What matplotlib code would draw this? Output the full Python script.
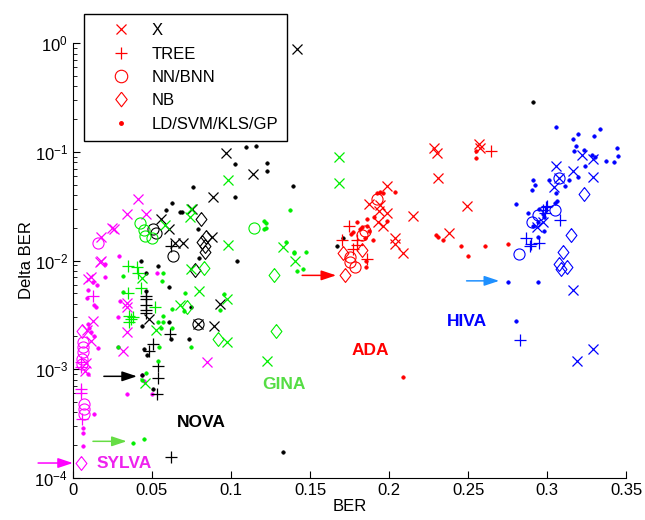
import matplotlib
matplotlib.use("Agg")
import matplotlib.pyplot as plt
from matplotlib.lines import Line2D

plt.rcParams['font.family'] = ['Liberation Sans', 'DejaVu Sans']
plt.rcParams['mathtext.fontset'] = 'custom'
plt.rcParams['mathtext.rm'] = 'Liberation Sans'
plt.rcParams['mathtext.it'] = 'Liberation Sans:italic'
plt.rcParams['mathtext.bf'] = 'Liberation Sans:bold'

# ---------------- data: (BER, Delta BER) ----------------
# SYLVA (magenta)
sylva_x = [(0.041, 0.037), (0.034, 0.027), (0.046, 0.027), (0.025, 0.020), (0.026, 0.0195),
           (0.018, 0.0166), (0.018, 0.0100), (0.017, 0.0097), (0.0095, 0.0068), (0.0115, 0.0071),
           (0.034, 0.0041), (0.034, 0.0037), (0.0127, 0.0028), (0.0089, 0.0023), (0.034, 0.0022),
           (0.0115, 0.0018), (0.032, 0.00148), (0.0085, 0.00115), (0.0078, 0.00097), (0.085, 0.00117)]
sylva_tree = [(0.0127, 0.0047), (0.005, 0.00116), (0.005, 0.00104), (0.005, 0.00066),
              (0.005, 0.00060), (0.006, 0.00035)]
sylva_nn = [(0.016, 0.0146), (0.0063, 0.00177), (0.0063, 0.00159), (0.0063, 0.00143),
            (0.006, 0.00125), (0.006, 0.00112), (0.0068, 0.00048), (0.0068, 0.00043), (0.0068, 0.00039)]
sylva_nb = [(0.0057, 0.00227), (0.005, 0.000137)]
sylva_ld = [(0.029, 0.0111), (0.020, 0.0071), (0.020, 0.0092), (0.0095, 0.0054), (0.015, 0.0059),
            (0.0127, 0.0063), (0.0133, 0.0039), (0.0146, 0.0037), (0.0297, 0.0042), (0.0285, 0.0030),
            (0.0089, 0.0045), (0.010, 0.0024), (0.0114, 0.0022), (0.0133, 0.0020), (0.0095, 0.0026),
            (0.016, 0.00158), (0.0285, 0.0016), (0.0095, 0.00090), (0.034, 0.00059), (0.050, 0.00059),
            (0.044, 0.00088), (0.045, 0.00078), (0.0133, 0.00039), (0.0063, 0.00029), (0.0063, 0.00026),
            (0.0063, 0.000196), (0.053, 0.0077)]

# NOVA (black)
nova_x = [(0.142, 0.88), (0.097, 0.098), (0.114, 0.063), (0.0886, 0.0388), (0.0753, 0.030),
          (0.0557, 0.0243), (0.0608, 0.0193), (0.088, 0.0163), (0.0646, 0.0146), (0.0696, 0.0146),
          (0.093, 0.0040), (0.089, 0.0025), (0.079, 0.0026), (0.048, 0.0029)]
nova_tree = [(0.062, 0.0135), (0.0462, 0.0047), (0.0462, 0.0044), (0.0465, 0.0039), (0.0465, 0.0035),
             (0.046, 0.0033), (0.0614, 0.0021), (0.0506, 0.0017), (0.048, 0.00147), (0.054, 0.00106),
             (0.054, 0.00083), (0.053, 0.00059), (0.062, 0.000156)]
nova_nn = [(0.0506, 0.0193), (0.0525, 0.0181), (0.0633, 0.0109), (0.079, 0.0026)]
nova_nb = [(0.081, 0.024), (0.0816, 0.0149), (0.084, 0.0163), (0.0835, 0.0135), (0.0835, 0.0121),
           (0.077, 0.0081)]
nova_ld = [(0.1095, 0.111), (0.116, 0.114), (0.1025, 0.078), (0.123, 0.079), (0.123, 0.066),
           (0.139, 0.049), (0.076, 0.047), (0.1025, 0.0386), (0.063, 0.034), (0.059, 0.029),
           (0.069, 0.028), (0.068, 0.0278), (0.079, 0.0193), (0.080, 0.0106), (0.104, 0.0098),
           (0.043, 0.0100), (0.054, 0.0089), (0.046, 0.0077), (0.061, 0.0057), (0.046, 0.0052),
           (0.075, 0.0037), (0.044, 0.0025), (0.061, 0.0027), (0.062, 0.0019), (0.0734, 0.0019),
           (0.045, 0.00154), (0.0468, 0.00136), (0.044, 0.00088), (0.0506, 0.00066), (0.133, 0.000173),
           (0.291, 0.29), (0.171, 0.016), (0.167, 0.0136)]

# GINA (green)
gina_x = [(0.098, 0.055), (0.074, 0.0249), (0.075, 0.030), (0.058, 0.0214), (0.133, 0.0132),
          (0.098, 0.0140), (0.168, 0.090), (0.168, 0.052), (0.1405, 0.010), (0.044, 0.0069),
          (0.075, 0.0083), (0.080, 0.0052), (0.0975, 0.0044), (0.068, 0.0039), (0.0525, 0.0023),
          (0.0975, 0.00177), (0.123, 0.0012), (0.0456, 0.00075)]
gina_tree = [(0.035, 0.0089), (0.0405, 0.0087), (0.041, 0.0077), (0.043, 0.0056), (0.035, 0.0050),
             (0.052, 0.0037), (0.0355, 0.0031), (0.037, 0.0029), (0.0355, 0.0027), (0.038, 0.0030)]
gina_nn = [(0.0424, 0.0223), (0.045, 0.019), (0.0456, 0.0167), (0.050, 0.016), (0.1146, 0.020)]
gina_nb = [(0.127, 0.0073), (0.083, 0.0085), (0.072, 0.0037), (0.092, 0.0019), (0.1285, 0.00226)]
gina_ld = [(0.137, 0.029), (0.121, 0.023), (0.122, 0.022), (0.121, 0.0193), (0.122, 0.020),
           (0.135, 0.0149), (0.140, 0.0121), (0.1475, 0.0121), (0.142, 0.0080), (0.1455, 0.0084),
           (0.140, 0.0117), (0.032, 0.0072), (0.057, 0.0077), (0.0563, 0.0065), (0.032, 0.0051),
           (0.071, 0.0050), (0.0956, 0.0049), (0.093, 0.0035), (0.063, 0.0036), (0.070, 0.0034),
           (0.057, 0.0031), (0.057, 0.0027), (0.063, 0.0024), (0.056, 0.0024), (0.054, 0.0027),
           (0.075, 0.00159), (0.0285, 0.0016), (0.0544, 0.00159), (0.054, 0.00118), (0.046, 0.00092),
           (0.044, 0.00080), (0.038, 0.00021), (0.045, 0.00023)]

# ADA (red)
ada_x = [(0.2285, 0.109), (0.2304, 0.098), (0.257, 0.118), (0.2576, 0.109), (0.231, 0.0577),
         (0.1987, 0.049), (0.187, 0.033), (0.194, 0.0327), (0.1937, 0.0287), (0.1987, 0.0275),
         (0.215, 0.0259), (0.193, 0.0225), (0.196, 0.0206), (0.2038, 0.0160), (0.2038, 0.0143),
         (0.209, 0.0117), (0.238, 0.018), (0.249, 0.032)]
ada_tree = [(0.2646, 0.102), (0.1747, 0.0206), (0.170, 0.0156), (0.180, 0.0156), (0.180, 0.0139),
            (0.177, 0.0129), (0.186, 0.0104)]
ada_nn = [(0.1924, 0.037), (0.185, 0.0185), (0.183, 0.0173), (0.1753, 0.0107), (0.1753, 0.0096),
          (0.1785, 0.0088)]
ada_nb = [(0.171, 0.0118), (0.183, 0.0126), (0.172, 0.0073)]
ada_ld = [(0.255, 0.102), (0.255, 0.088), (0.2038, 0.043), (0.194, 0.0425), (0.196, 0.0415),
          (0.1924, 0.0415), (0.1987, 0.0232), (0.1905, 0.0253), (0.180, 0.0224), (0.186, 0.024),
          (0.186, 0.0206), (0.1816, 0.0193), (0.187, 0.0185), (0.185, 0.016), (0.190, 0.0155),
          (0.183, 0.0203), (0.177, 0.0182), (0.176, 0.0175), (0.1855, 0.0098), (0.1855, 0.0088),
          (0.2297, 0.017), (0.231, 0.0163), (0.234, 0.0156), (0.2456, 0.0135), (0.250, 0.0111),
          (0.2608, 0.0135), (0.2753, 0.0143), (0.209, 0.00084)]

# HIVA (blue)
hiva_x = [(0.322, 0.094), (0.329, 0.086), (0.329, 0.059), (0.3165, 0.067), (0.3057, 0.074),
          (0.304, 0.047), (0.3076, 0.058), (0.2975, 0.0224), (0.2937, 0.0203), (0.3165, 0.0053),
          (0.329, 0.00155), (0.319, 0.00120)]
hiva_tree = [(0.2975, 0.0294), (0.2994, 0.031), (0.300, 0.032), (0.2987, 0.0276), (0.308, 0.0238),
             (0.2867, 0.0160), (0.290, 0.0143), (0.295, 0.0146), (0.289, 0.0135), (0.283, 0.00184)]
hiva_nn = [(0.305, 0.0294), (0.294, 0.0262), (0.2905, 0.0224), (0.282, 0.0114), (0.3076, 0.058)]
hiva_nb = [(0.323, 0.041), (0.315, 0.0170), (0.310, 0.0121), (0.3076, 0.0092), (0.3127, 0.0088),
           (0.309, 0.0084)]
hiva_ld = [(0.3057, 0.170), (0.3196, 0.146), (0.3165, 0.132), (0.3297, 0.140), (0.3335, 0.163),
           (0.318, 0.112), (0.317, 0.102), (0.323, 0.104), (0.344, 0.109), (0.345, 0.092),
           (0.337, 0.083), (0.342, 0.081), (0.330, 0.090), (0.328, 0.094), (0.324, 0.074),
           (0.3196, 0.059), (0.301, 0.055), (0.314, 0.055), (0.311, 0.048), (0.3057, 0.042),
           (0.291, 0.055), (0.292, 0.050), (0.2905, 0.045), (0.280, 0.033), (0.306, 0.0356),
           (0.305, 0.034), (0.288, 0.0276), (0.295, 0.030), (0.2975, 0.027), (0.298, 0.025),
           (0.294, 0.0224), (0.291, 0.0206), (0.298, 0.0185), (0.294, 0.0163), (0.275, 0.0064),
           (0.294, 0.0063), (0.280, 0.0028)]

# best entries (arrow tail, arrow head) and dataset labels
arrows = [((-0.022, 0.000137), (0.0, 0.000137), '#ff00ff'),
          ((0.0127, 0.000217), (0.034, 0.000217), '#66dd44'),
          ((0.0196, 0.00086), (0.0405, 0.00086), '#000000'),
          ((0.145, 0.0073), (0.1665, 0.0073), '#ff0000'),
          ((0.249, 0.0065), (0.2696, 0.0065), '#1e90ff')]
labels = [('SYLVA', 0.0150, 0.000135, '#ee22ee'),
          ('NOVA', 0.0655, 0.00032, '#000000'),
          ('GINA', 0.1195, 0.00072, '#55dd44'),
          ('ADA', 0.1765, 0.00150, '#ff0000'),
          ('HIVA', 0.2365, 0.00272, '#0000ff')]

datasets = [
    ('#ff00ff', sylva_x, sylva_tree, sylva_nn, sylva_nb, sylva_ld),
    ('#000000', nova_x, nova_tree, nova_nn, nova_nb, nova_ld),
    ('#00ee00', gina_x, gina_tree, gina_nn, gina_nb, gina_ld),
    ('#ff0000', ada_x, ada_tree, ada_nn, ada_nb, ada_ld),
    ('#0000ff', hiva_x, hiva_tree, hiva_nn, hiva_nb, hiva_ld),
]

diamond = [(0, 1), (0.78, 0), (0, -1), (-0.78, 0), (0, 1)]
styles = [dict(marker='x', ms=6.5, mew=0.9, filled=False),
          dict(marker='+', ms=8, mew=0.9, filled=False),
          dict(marker='o', ms=8, mew=0.8, filled=False),
          dict(marker=diamond, ms=10, mew=0.8, filled=False),
          dict(marker='.', ms=5, mew=0.5, filled=True)]

fig = plt.figure(figsize=(6.45, 5.2), dpi=100)
ax = fig.add_axes([0.113, 0.081, 0.858, 0.836])

for color, *groups in datasets:
    for pts, st in zip(groups, styles):
        xs = [p[0] for p in pts]
        ys = [p[1] for p in pts]
        ax.plot(xs, ys, linestyle='none', color=color, marker=st['marker'],
                ms=st['ms'], mew=st['mew'], mfc=(color if st['filled'] else 'none'))

for (x0, y0), (x1, y1), c in arrows:
    ax.annotate('', xy=(x1, y1), xytext=(x0, y0),
                arrowprops=dict(arrowstyle='-|>,head_length=0.9,head_width=0.3', color=c,
                                lw=1.1, shrinkA=0, shrinkB=0),
                annotation_clip=False)

for txt, x, y, c in labels:
    ax.text(x, y, txt, color=c, fontsize=12.5, fontweight='bold', ha='left', va='center')

ax.set_yscale('log')
ax.set_xlim(0, 0.35)
ax.set_ylim(1e-4, 1)
ax.set_xticks([0, 0.05, 0.1, 0.15, 0.2, 0.25, 0.3, 0.35])
ax.set_xticklabels(['0', '0.05', '0.1', '0.15', '0.2', '0.25', '0.3', '0.35'])
ax.tick_params(axis='both', which='both', direction='in', labelsize=12)
ax.tick_params(axis='both', which='major', length=5)
ax.tick_params(axis='y', which='minor', length=3)
ax.spines['top'].set_visible(False)
ax.spines['right'].set_visible(False)
ax.set_xlabel('BER', fontsize=12, labelpad=1)
ax.set_ylabel('Delta BER', fontsize=12, labelpad=0)

handles = [Line2D([], [], linestyle='none', color='#ff0000', marker='x', ms=6.5, mew=0.9),
           Line2D([], [], linestyle='none', color='#ff0000', marker='+', ms=9, mew=0.9),
           Line2D([], [], linestyle='none', color='#ff0000', marker='o', ms=9, mew=0.8, mfc='none'),
           Line2D([], [], linestyle='none', color='#ff0000', marker=diamond, ms=10.5, mew=0.8, mfc='none'),
           Line2D([], [], linestyle='none', color='#ff0000', marker='.', ms=5)]
leg = fig.legend(handles, ['X', 'TREE', 'NN/BNN', 'NB', 'LD/SVM/KLS/GP'],
                 loc='upper left', bbox_to_anchor=(0.130, 0.973), fontsize=12,
                 frameon=True, fancybox=False, edgecolor='black', framealpha=1,
                 borderpad=0.55, labelspacing=0.5, handlelength=3.4, handletextpad=0.1,
                 borderaxespad=0)
leg.get_frame().set_linewidth(1.0)

fig.savefig('out.png', dpi=100)
